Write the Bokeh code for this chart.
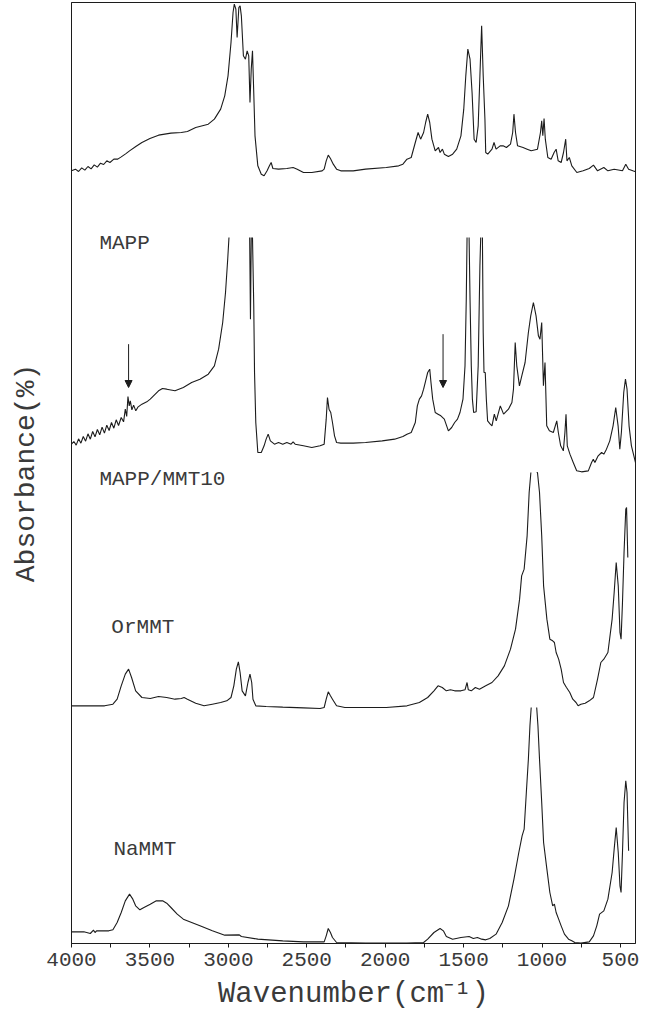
from bokeh.plotting import figure
from bokeh.models import Range1d, Arrow, NormalHead, ColumnDataSource, FixedTicker
from bokeh.embed import file_html
from bokeh.resources import INLINE
from bokeh.core.properties import value

nan = float("nan")

# ---------------- data (wavenumber cm-1, absorbance arbitrary units) -------------
mapp_wn = [4000, 3975, 3955, 3935, 3915, 3895, 3875, 3855, 3835, 3815, 3795, 3775, 3755, 3730, 3705,
           3683, 3655, 3630, 3590, 3551, 3500, 3445, 3366, 3300, 3261, 3208, 3128, 3089, 3049, 3023,
           3002, 2983, 2970, 2962, 2952, 2944, 2933, 2925, 2917, 2904, 2891, 2880, 2870, 2862, 2854,
           2846, 2838, 2830, 2812, 2790, 2772, 2753, 2738, 2727, 2716, 2680, 2627, 2587, 2561, 2521,
           2468, 2402, 2389, 2376, 2363, 2349, 2331, 2310, 2283, 2204, 2125, 1993, 1914, 1887, 1861,
           1834, 1808, 1790, 1774, 1755, 1742, 1729, 1716, 1702, 1681, 1660, 1650, 1635, 1623, 1597,
           1570, 1544, 1517, 1499, 1486, 1473, 1459, 1446, 1433, 1420, 1407, 1396, 1385, 1375, 1364,
           1359, 1346, 1319, 1306, 1293, 1267, 1248, 1227, 1201, 1187, 1179, 1169, 1156, 1121, 1095,
           1069, 1029, 1010, 1002, 995, 987, 979, 963, 942, 923, 910, 897, 878, 863, 849,
           841, 826, 810, 778, 738, 699, 672, 646, 606, 580, 540, 487, 466, 448, 421, 404]
mapp_abs = [15, 20, 13, 24, 17, 28, 21, 33, 26, 38, 34, 45, 40, 50, 50,
            57, 66, 75, 88, 100, 112, 122, 128, 130, 133, 145, 155, 170, 200, 240,
            300, 400, 490, 515, 500, 415, 505, 510, 480, 360, 350, 375, 360, 220, 320,
            375, 250, 120, 30, 5, 0, 15, 30, 40, 22, 20, 22, 25, 20, 10,
            10, 15, 20, 45, 62, 52, 35, 20, 15, 15, 20, 25, 30, 35, 50,
            55, 100, 130, 110, 130, 160, 185, 160, 110, 75, 85, 70, 80, 65, 58,
            65, 80, 120, 200, 300, 380, 350, 250, 110, 100, 150, 300, 450, 300, 170,
            70, 65, 80, 100, 80, 90, 90, 85, 95, 130, 185, 130, 90, 85, 80,
            75, 80, 130, 165, 120, 172, 110, 55, 50, 70, 80, 45, 40, 70, 110,
            45, 55, 30, 10, 15, 22, 32, 15, 25, 15, 20, 15, 35, 20, 15, 12]

mmt10_wn = [4000, 3985, 3970, 3955, 3940, 3925, 3910, 3895, 3880, 3865, 3850, 3835, 3820, 3805, 3790,
            3775, 3760, 3745, 3730, 3715, 3700, 3683, 3668, 3657, 3648, 3640, 3632, 3625, 3615, 3604,
            3590, 3577, 3551, 3520, 3498, 3445, 3420, 3393, 3340, 3287, 3234, 3181, 3128, 3089, 3062,
            3036, 3018, 3004, 2996, nan, 2864, 2859, 2854, nan, 2846, 2838, 2833, 2825, 2812, 2790,
            2772, 2759, 2746, 2732, 2706, 2680, 2653, 2627, 2600, 2587, 2574, 2521, 2468, 2415, 2389,
            2376, 2368, 2358, 2347, 2336, 2323, 2310, 2283, 2204, 2125, 2019, 1940, 1887, 1861, 1834,
            1808, 1795, 1782, 1768, 1755, 1742, 1729, 1716, 1708, 1697, 1681, 1663, 1645, 1623, 1597,
            1576, 1557, 1539, 1523, 1504, 1491, 1483, 1478, nan, 1465, 1459, 1451, 1444, 1436, 1420,
            1407, 1396, 1391, nan, 1380, 1375, 1370, 1362, 1355, 1347, 1330, 1319, 1304, 1292, 1266,
            1245, 1214, 1192, 1182, 1171, 1161, 1144, 1129, 1108, 1087, 1072, 1055, 1038, 1023, 1013,
            1002, 991, 981, 970, 953, 928, 906, 896, 881, 864, 854, 847, 839, 822, 801,
            779, 748, 705, 684, 673, 663, 642, 620, 606, 589, 568, 547, 530, 515, 504,
            494, 479, 468, 458, 445, 430, 404]
mmt10_abs = [85, 93, 82, 101, 88, 108, 94, 116, 100, 123, 107, 129, 113, 136, 118,
             142, 126, 150, 133, 158, 141, 165, 152, 190, 168, 228, 200, 215, 188, 202,
             185, 196, 205, 212, 220, 245, 252, 250, 245, 255, 270, 280, 295, 320, 370,
             450, 540, 640, 705, nan, 705, 460, 705, nan, 705, 500, 300, 150, 60, 60,
             80, 100, 115, 95, 85, 90, 85, 90, 85, 92, 85, 80, 75, 80, 85,
             160, 225, 190, 180, 150, 110, 90, 88, 88, 90, 95, 100, 108, 115, 120,
             150, 200, 220, 230, 250, 275, 300, 310, 270, 220, 180, 175, 170, 160, 125,
             135, 150, 160, 180, 220, 320, 520, 705, nan, 705, 520, 320, 220, 180, 182,
             320, 620, 705, nan, 705, 420, 300, 300, 220, 155, 145, 140, 175, 155, 200,
             175, 190, 210, 250, 390, 320, 260, 290, 330, 420, 470, 510, 470, 410, 400,
             450, 260, 330, 140, 125, 120, 155, 120, 80, 65, 120, 175, 80, 55, 30,
             5, 2, 5, 30, 40, 30, 50, 60, 55, 70, 95, 140, 195, 140, 70,
             120, 240, 280, 250, 140, 80, 30]

ormmt_wn = [4000, 3894, 3789, 3736, 3709, 3683, 3657, 3636, 3617, 3591, 3551, 3498, 3445, 3393, 3340,
            3300, 3282, 3261, 3208, 3155, 3102, 3049, 3010, 2983, 2965, 2949, 2936, 2925, 2912, 2891,
            2875, 2862, 2851, 2843, 2825, 2759, 2653, 2521, 2415, 2389, 2376, 2363, 2349, 2336, 2310,
            2257, 2125, 1993, 1861, 1782, 1729, 1689, 1663, 1636, 1610, 1584, 1557, 1517, 1491, 1478,
            1470, 1451, 1425, 1399, 1359, 1319, 1280, 1240, 1201, 1169, 1143, 1130, 1114, 1095, 1082,
            1071, nan, 1034, 1029, 1016, 1002, 990, 969, 950, 932, 921, 910, 894, 878, 863,
            844, 823, 804, 783, 770, 752, 725, 699, 672, 646, 625, 606, 580, 553, 540,
            527, 514, 503, 496, 487, 477, 466, 461, 453]
ormmt_abs = [10, 10, 10, 15, 30, 70, 105, 120, 95, 55, 35, 32, 38, 35, 30,
             32, 35, 30, 18, 10, 15, 20, 25, 35, 70, 120, 142, 110, 55, 40,
             80, 105, 80, 30, 10, 8, 6, 4, 2, 5, 30, 52, 40, 30, 10,
             5, 5, 5, 10, 20, 35, 55, 70, 65, 55, 58, 55, 55, 58, 80,
             58, 55, 65, 60, 70, 80, 100, 130, 180, 240, 330, 400, 420, 520, 650,
             710, nan, 710, 710, 650, 520, 370, 270, 210, 205, 200, 170, 150, 120, 80,
             65, 50, 30, 20, 10, 15, 18, 25, 35, 90, 140, 150, 170, 270, 350,
             440, 370, 230, 210, 320, 470, 600, 605, 455]

nammt_wn = [4000, 3921, 3880, 3860, 3850, 3840, 3762, 3736, 3709, 3683, 3657, 3630, 3609, 3591, 3564,
            3538, 3498, 3459, 3419, 3393, 3366, 3326, 3287, 3234, 3181, 3102, 3023, 2930, 2917, 2812,
            2653, 2521, 2389, 2376, 2363, 2349, 2336, 2310, 2125, 1861, 1755, 1729, 1689, 1650, 1629,
            1610, 1570, 1517, 1465, 1438, 1412, 1385, 1359, 1333, 1293, 1254, 1214, 1179, 1148, 1127,
            1114, 1100, 1087, 1077, 1069, nan, 1034, 1026, 1016, 1002, 990, 969, 950, 932, 921,
            910, 894, 878, 857, 831, 810, 791, 752, 699, 672, 651, 633, 606, 580, 553,
            540, 527, 514, 503, 496, 487, 477, 466, 458, 448]
nammt_abs = [35, 35, 30, 40, 33, 38, 38, 41, 63, 93, 128, 148, 133, 113, 101,
             108, 118, 128, 128, 121, 108, 88, 73, 63, 53, 38, 25, 26, 21, 13,
             8, 5, 5, 23, 45, 33, 18, 3, 1, 1, 3, 13, 33, 45, 38,
             21, 13, 18, 21, 15, 18, 13, 11, 15, 28, 63, 113, 193, 273, 323,
             343, 453, 553, 653, 708, nan, 708, 653, 553, 423, 303, 223, 153, 113, 118,
             93, 73, 53, 28, 13, 8, 3, 1, 5, 23, 53, 88, 98, 133, 213,
             283, 348, 273, 173, 153, 273, 423, 488, 453, 278]

series_names = ["MAPP", "MAPP/MMT10", "OrMMT", "NaMMT"]
series_offset = [2303, 1413, 703, 0]          # vertical stacking offsets
label_wn = [3822, 3822, 3746, 3733]           # label anchor (left) positions
label_abs = [-203, -21, 245, 282]             # label heights relative to each offset

arrow_wn = [3636, 1631]                       # arrows on MAPP/MMT10
arrow_top = [385, 415]
arrow_tip = [255, 255]

x_ticks = [4000, 3500, 3000, 2500, 2000, 1500, 1000, 500]
x_minor = [3750, 3250, 2750, 2250, 1750, 1250, 750]

FONT = "Liberation Mono"
INK = "#1c1c1c"
TXT = "#3a3a3a"

p = figure(width=641, height=1021, output_backend="svg", toolbar_location=None,
           x_range=Range1d(4000, 404), y_range=Range1d(0, 2823),
           min_border_left=71, min_border_right=6, min_border_top=2, min_border_bottom=78)
p.background_fill_color = "white"
p.border_fill_color = "white"
p.outline_line_color = INK
p.outline_line_width = 1
p.xgrid.visible = False
p.ygrid.visible = False

spectra = [(mapp_wn, mapp_abs), (mmt10_wn, mmt10_abs), (ormmt_wn, ormmt_abs), (nammt_wn, nammt_abs)]
for (wn, ab), off in zip(spectra, series_offset):
    ys = [a + off for a in ab]
    p.line(wn, ys, line_color=INK, line_width=1.1)

lab_src = ColumnDataSource(dict(x=label_wn,
                                y=[a + o for a, o in zip(label_abs, series_offset)],
                                t=series_names))
p.text(x="x", y="y", text="t", source=lab_src, text_font=value(FONT),
       text_font_size="21px", text_color=TXT, text_align="left", text_baseline="middle")

arr_src = ColumnDataSource(dict(x0=arrow_wn, x1=arrow_wn,
                                y0=[a + series_offset[1] for a in arrow_top],
                                y1=[a + series_offset[1] for a in arrow_tip]))
p.add_layout(Arrow(end=NormalHead(size=7, fill_color=INK, line_color=INK),
                   x_start="x0", y_start="y0", x_end="x1", y_end="y1",
                   source=arr_src, line_color=INK, line_width=1))

xa = p.xaxis[0]
xa.ticker = FixedTicker(ticks=x_ticks, minor_ticks=x_minor)
xa.major_tick_in = 0
xa.major_tick_out = 4
xa.minor_tick_in = 0
xa.minor_tick_out = 4
xa.major_tick_line_color = INK
xa.minor_tick_line_color = INK
xa.axis_line_color = INK
xa.major_label_text_font = FONT
xa.major_label_text_font_size = "21px"
xa.major_label_text_color = TXT
xa.major_label_standoff = 5
xa.axis_label = "Wavenumber(cm⁻¹)"
xa.axis_label_text_font = FONT
xa.axis_label_text_font_size = "29px"
xa.axis_label_text_font_style = "normal"
xa.axis_label_text_color = TXT
xa.axis_label_standoff = 9

ya = p.yaxis[0]
ya.ticker = FixedTicker(ticks=[])
ya.major_tick_in = 0
ya.major_tick_out = 0
ya.minor_tick_in = 0
ya.minor_tick_out = 0
ya.axis_line_color = INK
ya.axis_label = "Absorbance(%)"
ya.axis_label_text_font = FONT
ya.axis_label_text_font_size = "28px"
ya.axis_label_text_font_style = "normal"
ya.axis_label_text_color = TXT
ya.axis_label_standoff = 30

open("out.html", "w").write(file_html(p, INLINE))
